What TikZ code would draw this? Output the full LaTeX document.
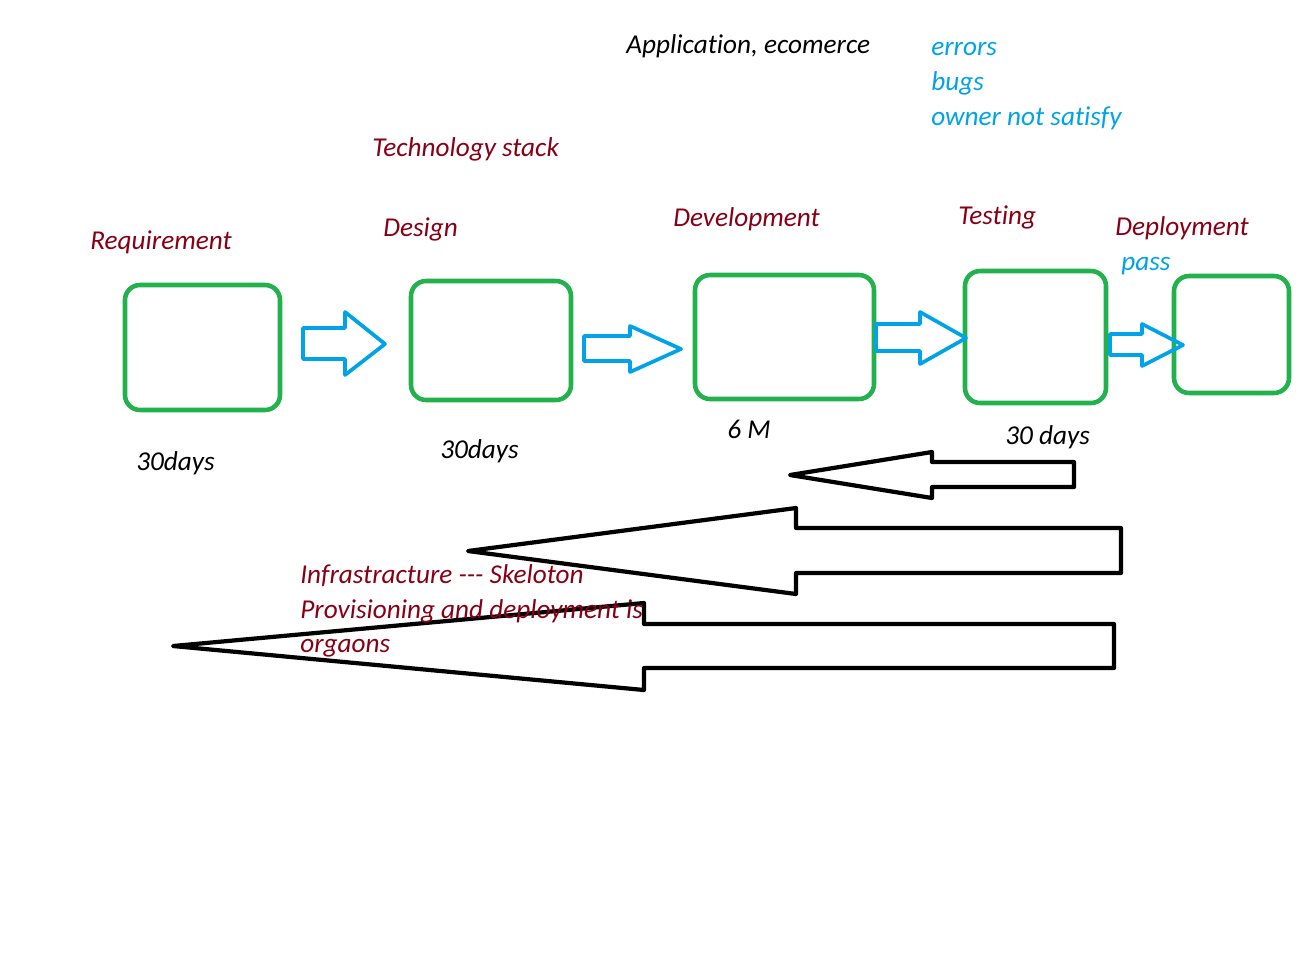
\documentclass[tikz,border=0pt]{standalone}
\usepackage{fontspec}
\setmainfont[Ligatures=NoCommon]{Carlito}
\definecolor{boxgreen}{RGB}{34,177,76}
\definecolor{arrowblue}{RGB}{0,162,232}
\definecolor{darkred}{RGB}{136,0,21}
\tikzset{
  every node/.style={font=\fontsize{15.5}{18}\selectfont\itshape, inner sep=0pt},
  stage/.style={draw=boxgreen, line width=2.6pt, rounded corners=0.3cm},
  phase/.style={anchor=base west, text=darkred},
  note/.style={anchor=base west, text=arrowblue},
  span/.style={anchor=base west},
  fwd/.style={draw=arrowblue, line width=2.1pt, line join=round},
  back/.style={draw=black, line width=2.4pt, line join=round}
}
\begin{document}
\begin{tikzpicture}[x=0.02cm,y=-0.02cm]
        \useasboundingbox (0,0) rectangle (1300,975);

        % stages
        \node[stage, minimum width=3.1cm, minimum height=2.5cm] (req) at (202.5,347.5) {};
        \node[stage, minimum width=3.2cm, minimum height=2.38cm] (des) at (491,340.5) {};
        \node[stage, minimum width=3.58cm, minimum height=2.48cm] (dev) at (784.5,337) {};
        \node[stage, minimum width=2.82cm, minimum height=2.64cm] (tst) at (1035.5,337) {};
        \node[stage, minimum width=2.3cm, minimum height=2.34cm] (dep) at (1231.5,334.5) {};

        % forward arrows
        \draw[fwd] (303,328) -- (345,328) -- (345,312) -- (385,344) -- (345,375) -- (345,359) -- (303,359) -- cycle;
        \draw[fwd] (584,336) -- (630,336) -- (630,326) -- (681,349) -- (630,372) -- (630,361) -- (584,361) -- cycle;
        \draw[fwd] (876,324) -- (920,324) -- (920,312) -- (966,338) -- (920,364) -- (920,351) -- (876,351) -- cycle;
        \draw[fwd] (1110,334) -- (1142,334) -- (1142,324) -- (1183,345) -- (1142,366) -- (1142,355) -- (1110,355) -- cycle;

        % backward arrows
        \draw[back] (790,475) -- (932,452) -- (932,462) -- (1074,462) -- (1074,487) -- (932,487) -- (932,498) -- cycle;
        \draw[back] (468,551) -- (796,508) -- (796,528) -- (1121,528) -- (1121,573) -- (796,573) -- (796,594) -- cycle;
        \draw[back] (173,646) -- (644,603) -- (644,624) -- (1114,624) -- (1114,668) -- (644,668) -- (644,690) -- cycle;

        % top notes
        \node[span] (app) at (626,53) {Application, ecomerce};
        \node[note] (err) at (931,55) {errors};
        \node[note] (bug) at (931,90) {bugs};
        \node[note] (own) at (931,125) {owner not satisfy};
        \node[phase] (tech) at (372,156) {Technology stack};

        % stage names
        \node[phase] (reqname) at (90,249) {Requirement};
        \node[phase] (desname) at (383,236) {Design};
        \node[phase] (devname) at (673,226) {Development};
        \node[phase] (tstname) at (958,224) {Testing};
        \node[phase] (depname) at (1115,235) {Deployment};
        \node[note] (pass) at (1121,270) {pass};

        % durations
        \node[span] (reqtime) at (136,470) {30days};
        \node[span] (destime) at (440,458) {30days};
        \node[span] (devtime) at (727,438) {6 M};
        \node[span] (tsttime) at (1005,444) {30 days};

        % infrastructure
        \node[phase] (infra) at (300,583) {Infrastracture {-}{-}{-} Skeloton};
        \node[phase] (prov) at (300,618) {Provisioning and deployment is};
        \node[phase] (org) at (300,652) {orgaons};
    \end{tikzpicture}
\end{document}
